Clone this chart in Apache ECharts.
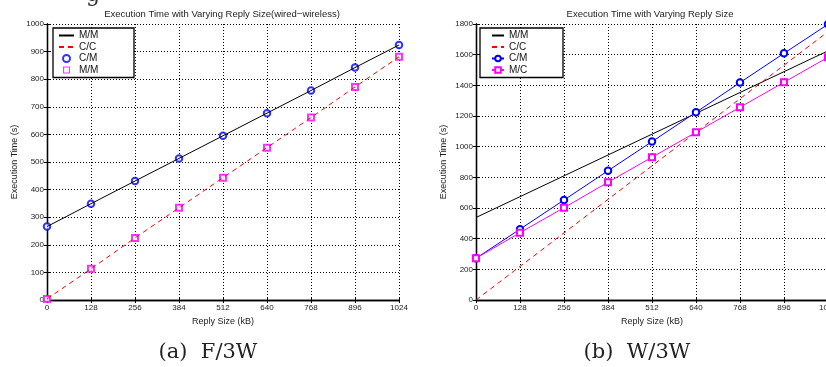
<!DOCTYPE html>
<html>
<head>
<meta charset="utf-8">
<script src="https://cdn.jsdelivr.net/npm/echarts@6/dist/echarts.min.js"></script>
<style>
  html, body { margin: 0; padding: 0; background: #fff; }
  #chart { width: 826px; height: 367px; }
</style>
</head>
<body>
<div id="chart"></div>
<script>
// reply sizes (kB), shared x positions
var replySizes = [0, 128, 256, 384, 512, 640, 768, 896, 1024];
var xTicks = { min: 0, max: 1024, interval: 128 };

// (a) F/3W  -- wired-wireless
var aMM = [266, 349, 431, 513, 595, 677, 759, 842, 924];
var aCC = [4, 113, 225, 334, 443, 552, 661, 772, 881];
var aCM = [266, 349, 431, 513, 595, 677, 759, 842, 924];
var aMC = [4, 113, 225, 334, 443, 552, 661, 772, 881];

// (b) W/3W  -- black and red are plain straight lines
var bEnds = [0, 1024];
var bMM = [538, 1625];
var bCC = [0, 1750];
var bCM = [272, 462, 652, 843, 1033, 1224, 1418, 1609, 1798];
var bMC = [272, 439, 602, 768, 931, 1094, 1257, 1420, 1583];

var fontSans = 'Liberation Sans';

function pairs(xs, ys) {
  return xs.map(function (x, i) { return [x, ys[i]]; });
}
function plain(v) { return String(v); }

// dotted MATLAB-ish grid
var gridLine = { lineStyle: { color: '#000', type: [1, 2], width: 1 } };

function bottomAxis(g) {
  return {
    gridIndex: g, type: 'value', min: xTicks.min, max: xTicks.max, interval: xTicks.interval,
    name: 'Reply Size (kB)', nameLocation: 'middle', nameGap: 17,
    nameTextStyle: { fontSize: 9, color: '#222', fontFamily: fontSans },
    axisLine: { lineStyle: { color: '#000', width: 1.3 } },
    axisTick: { inside: true, length: 3, lineStyle: { color: '#000' } },
    axisLabel: { fontSize: 8, color: '#222', margin: 4, fontFamily: fontSans, formatter: plain },
    splitLine: gridLine
  };
}
function topAxis(g) {
  return {
    gridIndex: g, type: 'value', position: 'top', min: xTicks.min, max: xTicks.max, interval: xTicks.interval,
    axisLine: { lineStyle: { color: '#000', width: 1.3 } },
    axisTick: { inside: true, length: 3, lineStyle: { color: '#000' } },
    axisLabel: { show: false }, splitLine: { show: false }
  };
}
function leftAxis(g, max, step) {
  return {
    gridIndex: g, type: 'value', min: 0, max: max, interval: step,
    name: 'Execution Time (s)', nameLocation: 'middle', nameGap: 28,
    nameTextStyle: { fontSize: 9, color: '#222', fontFamily: fontSans },
    axisLine: { show: true, lineStyle: { color: '#000', width: 1.3 } },
    axisTick: { show: true, inside: true, length: 3, lineStyle: { color: '#000' } },
    axisLabel: { fontSize: 8, color: '#222', margin: 3, fontFamily: fontSans, formatter: plain },
    splitLine: gridLine
  };
}
function rightAxis(g, max, step) {
  return {
    gridIndex: g, type: 'value', position: 'right', min: 0, max: max, interval: step,
    axisLine: { show: true, lineStyle: { color: '#000', width: 1.3 } },
    axisTick: { show: true, inside: true, length: 3, lineStyle: { color: '#000' } },
    axisLabel: { show: false }, splitLine: { show: false }
  };
}

// hollow square that keeps its aspect inside the legend slot
var hollowSquare = 'path://M0,0H10V10H0Z M1.6,1.6V8.4H8.4V1.6Z';

// legend entries; plain lines get their default marker hidden
function entry(name, kind) {
  if (kind === 'line') return { name: name, itemStyle: { opacity: 0 } };
  if (kind === 'square') return { name: name, icon: hollowSquare, itemStyle: { borderWidth: 0 } };
  return { name: name, itemStyle: { borderWidth: 1 } };
}
function legendBox(left, items, pad, iconW, textW) {
  return {
    orient: 'vertical', left: left, top: 28,
    data: items,
    formatter: function (n) { return n.slice(2); },
    padding: pad, itemWidth: iconW, itemHeight: 7, itemGap: 0.5,
    borderColor: '#000', borderWidth: 1.3, backgroundColor: '#fff',
    textStyle: { fontSize: 10, lineHeight: 11, width: textW, color: '#111', fontFamily: fontSans }
  };
}

var chart = echarts.init(document.getElementById('chart'));
var option = {
  animation: false,
  backgroundColor: '#fff',
  title: [
    { text: 'Execution Time with Varying Reply Size(wired\u2212wireless)', left: 222, top: 9, textAlign: 'center', padding: 0,
      textStyle: { fontSize: 9.5, fontWeight: 'normal', color: '#222', fontFamily: fontSans } },
    { text: 'Execution Time with Varying Reply Size', left: 650, top: 9, textAlign: 'center', padding: 0,
      textStyle: { fontSize: 9.5, fontWeight: 'normal', color: '#222', fontFamily: fontSans } }
  ],
  grid: [
    { left: 47, top: 24, width: 352, height: 276, outerBoundsMode: 'none' },
    { left: 476, top: 24, width: 352, height: 276, outerBoundsMode: 'none' }
  ],
  xAxis: [bottomAxis(0), bottomAxis(1), topAxis(0), topAxis(1)],
  yAxis: [leftAxis(0, 1000, 100), leftAxis(1, 1800, 200), rightAxis(0, 1000, 100), rightAxis(1, 1800, 200)],
  legend: [
    legendBox(53, [entry('a:M/M', 'line'), entry('a:C/C', 'line'), entry('a:C/M'), entry('a:M/M ', 'square')], [2, 3, 2, 5], 15, 52),
    legendBox(480, [entry('b:M/M', 'line'), entry('b:C/C', 'line'), entry('b:C/M'), entry('b:M/C')], [2, 3, 2, 11], 12, 51)
  ],
  series: [
    { name: 'a:M/M', type: 'line', xAxisIndex: 0, yAxisIndex: 0, data: pairs(replySizes, aMM),
      symbol: 'none', lineStyle: { color: '#000', width: 1 }, itemStyle: { color: '#000' } },
    { name: 'a:C/C', type: 'line', xAxisIndex: 0, yAxisIndex: 0, data: pairs(replySizes, aCC),
      symbol: 'none', lineStyle: { color: '#ff0000', width: 1, type: [5, 4] }, itemStyle: { color: '#ff0000' } },
    { name: 'a:C/M', type: 'scatter', xAxisIndex: 0, yAxisIndex: 0, data: pairs(replySizes, aCM),
      symbol: 'emptyCircle', symbolSize: 6.5, itemStyle: { color: '#0000ff', borderWidth: 1 } },
    { name: 'a:M/M ', type: 'scatter', xAxisIndex: 0, yAxisIndex: 0, data: pairs(replySizes, aMC),
      symbol: 'emptyRect', symbolSize: 6, itemStyle: { color: '#ff00ff', borderWidth: 1 } },

    { name: 'b:M/M', type: 'line', xAxisIndex: 1, yAxisIndex: 1, data: pairs(bEnds, bMM),
      symbol: 'none', lineStyle: { color: '#000', width: 1 }, itemStyle: { color: '#000' } },
    { name: 'b:C/C', type: 'line', xAxisIndex: 1, yAxisIndex: 1, data: pairs(bEnds, bCC),
      symbol: 'none', lineStyle: { color: '#ff0000', width: 1, type: [5, 4] }, itemStyle: { color: '#ff0000' } },
    { name: 'b:C/M', type: 'line', xAxisIndex: 1, yAxisIndex: 1, data: pairs(replySizes, bCM),
      symbol: 'emptyCircle', symbolSize: 6.5, lineStyle: { color: '#0000ff', width: 1 }, itemStyle: { color: '#0000ff', borderWidth: 1 } },
    { name: 'b:M/C', type: 'line', xAxisIndex: 1, yAxisIndex: 1, data: pairs(replySizes, bMC),
      symbol: 'emptyRect', symbolSize: 6, lineStyle: { color: '#ff00ff', width: 1 }, itemStyle: { color: '#ff00ff', borderWidth: 1 } }
  ],
  graphic: [
    // descender of the caption line above, clipped by the page top
    { type: 'text', left: 86, top: -16, style: { text: 'g', font: '22px DejaVu Serif', fill: '#333' } },
    { type: 'text', x: 208, y: 353, style: { text: '(a)  F/3W', font: '21px DejaVu Serif', fill: '#222', align: 'center', verticalAlign: 'middle' } },
    { type: 'text', x: 637, y: 353, style: { text: '(b)  W/3W', font: '21px DejaVu Serif', fill: '#222', align: 'center', verticalAlign: 'middle' } }
  ]
};
chart.setOption(option);
</script>
</body>
</html>
